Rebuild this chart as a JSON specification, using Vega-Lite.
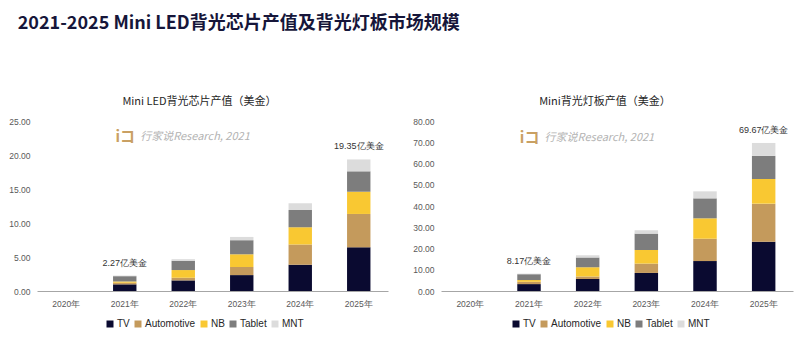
{
  "$schema": "https://vega.github.io/schema/vega-lite/v6.json",
  "background": "white",
  "padding": {"left": 8, "top": 15, "right": 5, "bottom": 0},
  "title": {
    "text": "2021-2025 Mini LED背光芯片产值及背光灯板市场规模",
    "anchor": "start",
    "font": "Noto Sans CJK SC",
    "fontSize": 18,
    "fontWeight": "bold",
    "color": "#16163a",
    "offset": 63,
    "dx": 9
  },
  "spacing": 24,
  "resolve": {"scale": {"color": "independent"}, "legend": {"color": "independent"}},
  "config": {
    "view": {"stroke": null},
    "font": "Liberation Sans",
    "axis": {
      "labelFont": "Liberation Sans",
      "labelFontSize": 8.5,
      "labelColor": "#595959",
      "ticks": false,
      "grid": false,
      "title": null
    },
    "legend": {
      "labelFont": "Liberation Sans",
      "labelFontSize": 10,
      "labelColor": "#262626",
      "symbolType": "square",
      "symbolSize": 49,
      "symbolStrokeWidth": 0,
      "columnPadding": 3,
      "labelOffset": 2
    }
  },
  "datasets": {
    "chip": [
      {"year": "2020年", "series": "TV", "rank": 1, "value": 0},
      {"year": "2021年", "series": "TV", "rank": 1, "value": 0.98},
      {"year": "2021年", "series": "Automotive", "rank": 2, "value": 0.24},
      {"year": "2021年", "series": "NB", "rank": 3, "value": 0.18},
      {"year": "2021年", "series": "Tablet", "rank": 4, "value": 0.78},
      {"year": "2021年", "series": "MNT", "rank": 5, "value": 0.09},
      {"year": "2022年", "series": "TV", "rank": 1, "value": 1.56},
      {"year": "2022年", "series": "Automotive", "rank": 2, "value": 0.39},
      {"year": "2022年", "series": "NB", "rank": 3, "value": 1.13},
      {"year": "2022年", "series": "Tablet", "rank": 4, "value": 1.37},
      {"year": "2022年", "series": "MNT", "rank": 5, "value": 0.23},
      {"year": "2023年", "series": "TV", "rank": 1, "value": 2.34},
      {"year": "2023年", "series": "Automotive", "rank": 2, "value": 1.19},
      {"year": "2023年", "series": "NB", "rank": 3, "value": 1.87},
      {"year": "2023年", "series": "Tablet", "rank": 4, "value": 2.07},
      {"year": "2023年", "series": "MNT", "rank": 5, "value": 0.48},
      {"year": "2024年", "series": "TV", "rank": 1, "value": 3.86},
      {"year": "2024年", "series": "Automotive", "rank": 2, "value": 2.97},
      {"year": "2024年", "series": "NB", "rank": 3, "value": 2.53},
      {"year": "2024年", "series": "Tablet", "rank": 4, "value": 2.56},
      {"year": "2024年", "series": "MNT", "rank": 5, "value": 0.98},
      {"year": "2025年", "series": "TV", "rank": 1, "value": 6.42},
      {"year": "2025年", "series": "Automotive", "rank": 2, "value": 4.91},
      {"year": "2025年", "series": "NB", "rank": 3, "value": 3.27},
      {"year": "2025年", "series": "Tablet", "rank": 4, "value": 3.0},
      {"year": "2025年", "series": "MNT", "rank": 5, "value": 1.75}
    ],
    "board": [
      {"year": "2020年", "series": "TV", "rank": 1, "value": 0},
      {"year": "2021年", "series": "TV", "rank": 1, "value": 3.25},
      {"year": "2021年", "series": "Automotive", "rank": 2, "value": 1.1},
      {"year": "2021年", "series": "NB", "rank": 3, "value": 0.8},
      {"year": "2021年", "series": "Tablet", "rank": 4, "value": 2.75},
      {"year": "2021年", "series": "MNT", "rank": 5, "value": 0.27},
      {"year": "2022年", "series": "TV", "rank": 1, "value": 5.7},
      {"year": "2022年", "series": "Automotive", "rank": 2, "value": 1.1},
      {"year": "2022年", "series": "NB", "rank": 3, "value": 4.4},
      {"year": "2022年", "series": "Tablet", "rank": 4, "value": 4.6},
      {"year": "2022年", "series": "MNT", "rank": 5, "value": 1.0},
      {"year": "2023年", "series": "TV", "rank": 1, "value": 8.5},
      {"year": "2023年", "series": "Automotive", "rank": 2, "value": 4.4},
      {"year": "2023年", "series": "NB", "rank": 3, "value": 6.4},
      {"year": "2023年", "series": "Tablet", "rank": 4, "value": 7.7},
      {"year": "2023年", "series": "MNT", "rank": 5, "value": 1.6},
      {"year": "2024年", "series": "TV", "rank": 1, "value": 14.1},
      {"year": "2024年", "series": "Automotive", "rank": 2, "value": 10.5},
      {"year": "2024年", "series": "NB", "rank": 3, "value": 9.6},
      {"year": "2024年", "series": "Tablet", "rank": 4, "value": 9.4},
      {"year": "2024年", "series": "MNT", "rank": 5, "value": 3.3},
      {"year": "2025年", "series": "TV", "rank": 1, "value": 23.2},
      {"year": "2025年", "series": "Automotive", "rank": 2, "value": 17.9},
      {"year": "2025年", "series": "NB", "rank": 3, "value": 11.6},
      {"year": "2025年", "series": "Tablet", "rank": 4, "value": 10.9},
      {"year": "2025年", "series": "MNT", "rank": 5, "value": 6.07}
    ],
    "chipNotes": [
      {"year": "2021年", "value": 2.27, "label": "2.27亿美金"},
      {"year": "2025年", "value": 19.35, "label": "19.35亿美金"}
    ],
    "boardNotes": [
      {"year": "2021年", "value": 8.17, "label": "8.17亿美金"},
      {"year": "2025年", "value": 69.67, "label": "69.67亿美金"}
    ],
    "chipMark": [{"year": "2022年", "value": 22.6, "text": "行家说Research, 2021", "logo": "iコ"}],
    "boardMark": [{"year": "2022年", "value": 71.8, "text": "行家说Research, 2021", "logo": "iコ"}]
  },
  "hconcat": [
    {
      "width": 351,
      "height": 170,
      "title": {"text": "Mini LED背光芯片产值（美金）", "font": "Noto Sans CJK SC", "fontSize": 11, "fontWeight": "normal", "color": "#262626", "offset": 10, "dx": -13},
      "encoding": {
        "x": {"field": "year", "type": "nominal",
          "scale": {"domain": ["2020年", "2021年", "2022年", "2023年", "2024年", "2025年"], "paddingInner": 0.6, "paddingOuter": 0.3},
          "axis": {"labelAngle": 0, "domainColor": "#a6a6a6", "labelPadding": 8}},
        "y": {"field": "value", "type": "quantitative",
          "scale": {"domain": [0, 25], "nice": false},
          "axis": {"values": [0, 5, 10, 15, 20, 25], "format": ".2f", "domain": false, "labelPadding": 7}}
      },
      "layer": [
        {
          "data": {"name": "chip"},
          "mark": {"type": "bar"},
          "encoding": {
            "color": {"field": "series", "type": "nominal",
              "scale": {"domain": ["TV", "Automotive", "NB", "Tablet", "MNT"], "range": ["#0a0a30", "#c49a5c", "#f9c832", "#7d7d7d", "#dcdcdc"]},
              "legend": {"title": null, "orient": "none", "direction": "horizontal", "legendX": 68, "legendY": 198}},
            "order": {"field": "rank", "type": "quantitative", "sort": "ascending"}
          }
        },
        {
          "data": {"name": "chipNotes"},
          "mark": {"type": "text", "fontSize": 9, "color": "#333333", "baseline": "bottom", "dy": -8, "font": "Liberation Sans"},
          "encoding": {
            "text": {"field": "label"}
          }
        },
        {
          "data": {"name": "chipMark"},
          "mark": {"type": "text", "fontSize": 11, "fontStyle": "italic", "color": "#b3b3b3", "align": "center", "baseline": "middle", "font": "Noto Sans CJK SC"},
          "encoding": {
            "x": {"field": "year", "type": "nominal", "bandPosition": 1},
            "text": {"field": "text"}
          }
        },
        {
          "data": {"name": "chipMark"},
          "mark": {"type": "text", "fontSize": 15, "fontWeight": "bold", "color": "#c9a063", "align": "right", "baseline": "middle", "dx": -60, "font": "Noto Sans CJK SC"},
          "encoding": {
            "x": {"field": "year", "type": "nominal", "bandPosition": 1},
            "text": {"field": "logo"}
          }
        }
      ]
    },
    {
      "width": 352,
      "height": 170,
      "title": {"text": "Mini背光灯板产值（美金）", "font": "Noto Sans CJK SC", "fontSize": 11, "fontWeight": "normal", "color": "#262626", "offset": 10, "dx": -12},
      "encoding": {
        "x": {"field": "year", "type": "nominal",
          "scale": {"domain": ["2020年", "2021年", "2022年", "2023年", "2024年", "2025年"], "paddingInner": 0.6, "paddingOuter": 0.3},
          "axis": {"labelAngle": 0, "domainColor": "#a6a6a6", "labelPadding": 8}},
        "y": {"field": "value", "type": "quantitative",
          "scale": {"domain": [0, 80], "nice": false},
          "axis": {"values": [0, 10, 20, 30, 40, 50, 60, 70, 80], "format": ".2f", "domain": false, "labelPadding": 7}}
      },
      "layer": [
        {
          "data": {"name": "board"},
          "mark": {"type": "bar"},
          "encoding": {
            "color": {"field": "series", "type": "nominal",
              "scale": {"domain": ["TV", "Automotive", "NB", "Tablet", "MNT"], "range": ["#0a0a30", "#c49a5c", "#f9c832", "#7d7d7d", "#dcdcdc"]},
              "legend": {"title": null, "orient": "none", "direction": "horizontal", "legendX": 70, "legendY": 198}},
            "order": {"field": "rank", "type": "quantitative", "sort": "ascending"}
          }
        },
        {
          "data": {"name": "boardNotes"},
          "mark": {"type": "text", "fontSize": 9, "color": "#333333", "baseline": "bottom", "dy": -8, "font": "Liberation Sans"},
          "encoding": {
            "text": {"field": "label"}
          }
        },
        {
          "data": {"name": "boardMark"},
          "mark": {"type": "text", "fontSize": 11, "fontStyle": "italic", "color": "#b3b3b3", "align": "center", "baseline": "middle", "font": "Noto Sans CJK SC"},
          "encoding": {
            "x": {"field": "year", "type": "nominal", "bandPosition": 1},
            "text": {"field": "text"}
          }
        },
        {
          "data": {"name": "boardMark"},
          "mark": {"type": "text", "fontSize": 15, "fontWeight": "bold", "color": "#c9a063", "align": "right", "baseline": "middle", "dx": -60, "font": "Noto Sans CJK SC"},
          "encoding": {
            "x": {"field": "year", "type": "nominal", "bandPosition": 1},
            "text": {"field": "logo"}
          }
        }
      ]
    }
  ]
}
